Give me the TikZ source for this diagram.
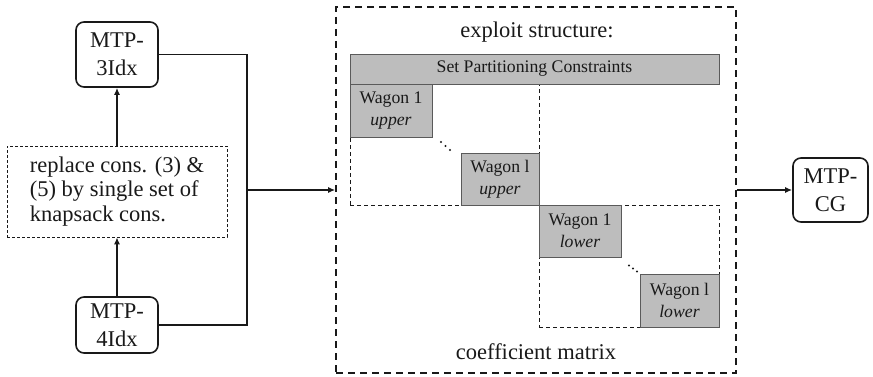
\documentclass[tikz,border=0pt]{standalone}
\usepackage{fontspec}
\setmainfont{Liberation Serif}
\usetikzlibrary{arrows.meta}
\definecolor{blockgray}{RGB}{189,189,189}
\definecolor{blockedge}{RGB}{90,90,90}
\definecolor{ink}{RGB}{25,25,25}
\tikzset{
  big/.style={font=\fontsize{22.5}{28}\selectfont},
  model/.style={draw=ink, line width=1.6pt, rounded corners=8pt, inner sep=0pt, align=center, big, text=ink},
  notebox/.style={draw=ink, densely dashed, line width=0.7pt, inner sep=0pt, align=left, font=\fontsize{22.5}{24.5}\selectfont, text=ink},
  outerbox/.style={draw=ink, dashed, dash pattern=on 7pt off 5pt, line width=1.6pt, inner sep=0pt},
  region/.style={draw=ink, dashed, dash pattern=on 4pt off 3pt, line width=0.8pt, inner sep=0pt},
  block/.style={draw=blockedge, fill=blockgray, line width=0.9pt, inner sep=0pt, align=center, font=\fontsize{17.7}{22}\selectfont, text=ink},
  conn/.style={draw=ink, line width=1.4pt},
  arr/.style={conn, -{Latex[length=7pt,width=6pt]}},
  dot/.style={fill=ink, circle, inner sep=0pt, minimum size=2.4pt},
}
\begin{document}
\begin{tikzpicture}[x=1pt,y=-1pt]
\useasboundingbox (0,0) rectangle (873,377);

% left side
\node[model, minimum width=82pt, minimum height=65pt] (m3) at (117,54.5) {MTP-\\3Idx};
\node[model, minimum width=82pt, minimum height=56pt] (m4) at (117,325) {MTP-\\4Idx};
\node[notebox, minimum width=220pt, minimum height=91pt] (cons) at (117,191.5) {replace cons. (3) \&\\(5) by single set of\\knapsack cons.};

\draw[arr] (cons.north) -- (m3.south);
\draw[arr] (m4.north) -- (cons.south);

% outer dashed frame
\node[outerbox, minimum width=400pt, minimum height=366pt] (outer) at (536,190) {};
\node[big, text=ink, inner sep=0pt] (title) at (537,32) {exploit structure:};
\node[big, text=ink, inner sep=0pt] (coef) at (536,352) {coefficient matrix};

\coordinate (j) at (247,190);
\draw[conn] (m3.east) -| (j) |- (m4.east);
\draw[arr] (j) -- (outer.west);

% right model
\node[model, minimum width=75pt, minimum height=64pt] (cg) at (830.5,190) {MTP-\\CG};
\draw[arr] (outer.east) -- (cg.west);

% matrix structure
\node[region, minimum width=189pt, minimum height=121pt] (up) at (444.5,144.5) {};
\node[region, minimum width=180pt, minimum height=122pt] (low) at (629,266) {};
\node[block, minimum width=369pt, minimum height=30pt] (spc) at (534.5,69) {Set Partitioning Constraints};
\node[block, minimum width=82pt, minimum height=53pt] (w1u) at (391,110.5) {Wagon 1\\\textit{upper}};
\node[block, minimum width=78pt, minimum height=52pt] (wlu) at (500,179) {Wagon l\\\textit{upper}};
\node[block, minimum width=82pt, minimum height=52pt] (w1l) at (580,231) {Wagon 1\\\textit{lower}};
\node[block, minimum width=79pt, minimum height=53pt] (wll) at (679.5,300.5) {Wagon l\\\textit{lower}};

\node[dot] (d1) at (441,142) {};
\node[dot] (d2) at (445.5,146) {};
\node[dot] (d3) at (450,150) {};
\node[dot] (d4) at (629,265.5) {};
\node[dot] (d5) at (633,268.5) {};
\node[dot] (d6) at (637,271.5) {};
\end{tikzpicture}
\end{document}
